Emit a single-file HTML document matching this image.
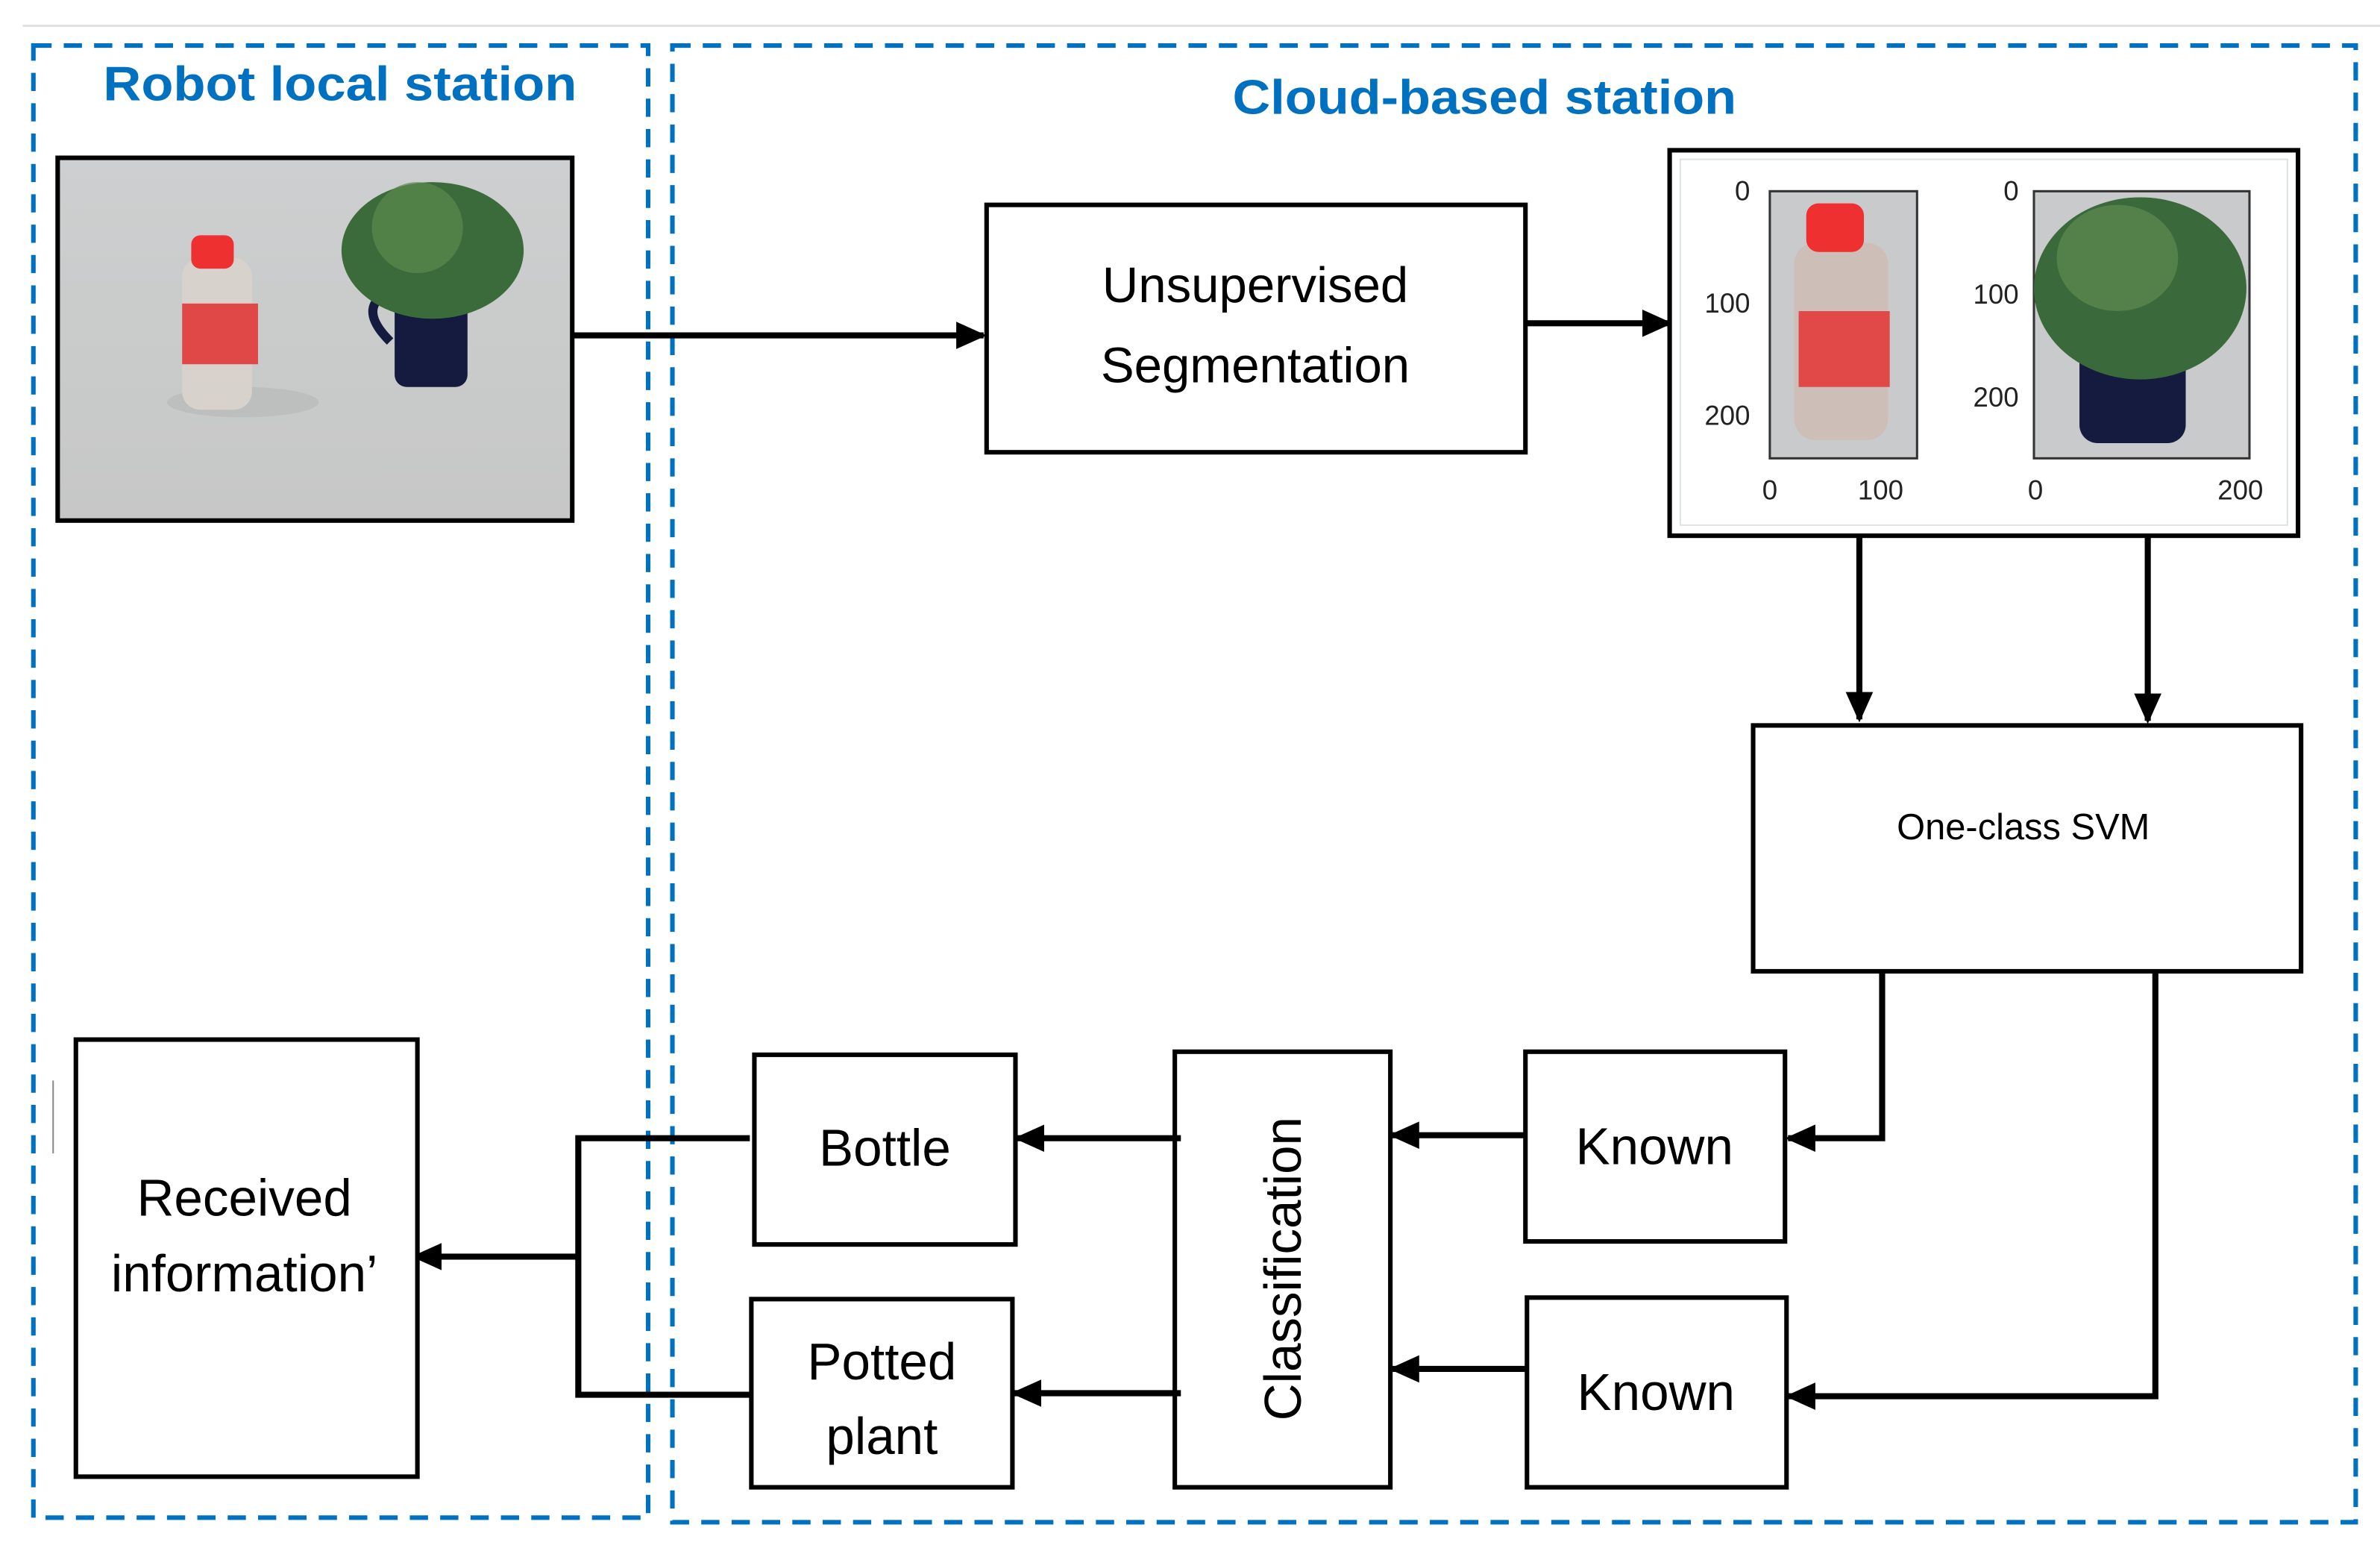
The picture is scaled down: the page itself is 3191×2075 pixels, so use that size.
<!DOCTYPE html>
<html><head><meta charset="utf-8"><style>html,body{margin:0;padding:0;background:#fff}svg{display:block}</style></head>
<body>
<svg width="3191" height="2075" viewBox="0 0 1568 1020" preserveAspectRatio="none" xmlns="http://www.w3.org/2000/svg" font-family="'Liberation Sans', sans-serif">
<defs>
<marker id="a" markerWidth="20" markerHeight="20" refX="18" refY="10" orient="auto" markerUnits="userSpaceOnUse" viewBox="0 0 20 20"><path d="M0,1 L20,10 L0,19 z" fill="#000"/></marker>
<linearGradient id="bg" x1="0" y1="0" x2="0" y2="1"><stop offset="0" stop-color="#cdcfd0"/><stop offset="1" stop-color="#c6c7c6"/></linearGradient>
</defs>
<line x1="15" y1="17" x2="1568" y2="17" stroke="#e2e2e2" stroke-width="1.5"/>
<line x1="35" y1="712" x2="35" y2="760" stroke="#888" stroke-width="1"/>
<rect x="22" y="30" width="405" height="970" fill="none" stroke="#0070c0" stroke-width="3" stroke-dasharray="12 8"/>
<rect x="443" y="30" width="1109" height="973" fill="none" stroke="#0070c0" stroke-width="3" stroke-dasharray="12 8"/>
<text x="224" y="66" font-size="32" font-weight="bold" fill="#0070c0" text-anchor="middle" textLength="312" lengthAdjust="spacingAndGlyphs">Robot local station</text>
<text x="978" y="75" font-size="32" font-weight="bold" fill="#0070c0" text-anchor="middle" textLength="332" lengthAdjust="spacingAndGlyphs">Cloud-based station</text>

<!-- photo -->
<rect x="38" y="104" width="339" height="239" fill="url(#bg)" stroke="#000" stroke-width="3"/>
<ellipse cx="160" cy="265" rx="50" ry="10" fill="#bdbebe"/>
<rect x="120" y="170" width="46" height="100" rx="12" fill="#d8d2cc"/>
<rect x="120" y="200" width="50" height="40" fill="#e04848"/>
<rect x="126" y="155" width="28" height="22" rx="6" fill="#ee3030"/>
<rect x="260" y="185" width="48" height="70" rx="8" fill="#141b3e"/>
<path d="M262,190 q-30,10 -5,35" stroke="#141b3e" stroke-width="6" fill="none"/>
<ellipse cx="285" cy="165" rx="60" ry="45" fill="#3b6b3a"/>
<ellipse cx="275" cy="150" rx="30" ry="30" fill="#5d8a4f" opacity="0.7"/>

<!-- arrows -->
<line x1="377" y1="221" x2="648" y2="221" stroke="#000" stroke-width="4" marker-end="url(#a)"/>
<rect x="650" y="135" width="355" height="163" fill="#fff" stroke="#000" stroke-width="3"/>
<text x="827" y="199" font-size="33" text-anchor="middle">Unsupervised</text>
<text x="827" y="252" font-size="33" text-anchor="middle">Segmentation</text>
<line x1="1005" y1="213" x2="1100" y2="213" stroke="#000" stroke-width="4" marker-end="url(#a)"/>

<!-- plots -->
<rect x="1100" y="99" width="414" height="254" fill="#fff" stroke="#000" stroke-width="3"/>
<rect x="1107" y="105" width="400" height="241" fill="none" stroke="#dde2e4" stroke-width="1"/>
<rect x="1166" y="126" width="97" height="176" fill="#c9cacb" stroke="#333" stroke-width="1.5"/>
<rect x="1182" y="160" width="62" height="130" rx="14" fill="#cdbfb8"/>
<rect x="1185" y="205" width="60" height="50" fill="#e14848"/>
<rect x="1190" y="134" width="38" height="32" rx="8" fill="#ee3030"/>
<rect x="1340" y="126" width="142" height="176" fill="#c9cacb" stroke="#333" stroke-width="1.5"/>
<rect x="1370" y="220" width="70" height="72" rx="12" fill="#141b3e"/>
<ellipse cx="1410" cy="190" rx="70" ry="60" fill="#3a6a3b"/>
<ellipse cx="1395" cy="170" rx="40" ry="35" fill="#5f8b50" opacity="0.7"/>
<g font-size="18" fill="#222" text-anchor="end">
<text x="1153" y="132">0</text><text x="1153" y="206">100</text><text x="1153" y="280">200</text>
<text x="1330" y="132">0</text><text x="1330" y="200">100</text><text x="1330" y="268">200</text>
</g>
<g font-size="18" fill="#222" text-anchor="middle">
<text x="1166" y="329">0</text><text x="1239" y="329">100</text><text x="1341" y="329">0</text><text x="1476" y="329">200</text>
</g>

<line x1="1225" y1="353" x2="1225" y2="474" stroke="#000" stroke-width="4" marker-end="url(#a)"/>
<line x1="1415" y1="353" x2="1415" y2="475" stroke="#000" stroke-width="4" marker-end="url(#a)"/>
<rect x="1155" y="478" width="361" height="162" fill="#fff" stroke="#000" stroke-width="3"/>
<text x="1333" y="553" font-size="24" text-anchor="middle">One-class SVM</text>

<polyline points="1240,640 1240,750 1178,750" fill="none" stroke="#000" stroke-width="4" marker-end="url(#a)"/>
<polyline points="1420,640 1420,920 1178,920" fill="none" stroke="#000" stroke-width="4" marker-end="url(#a)"/>
<rect x="1005" y="693" width="171" height="125" fill="#fff" stroke="#000" stroke-width="3"/>
<text x="1090" y="767" font-size="34" text-anchor="middle">Known</text>
<rect x="1006" y="855" width="171" height="125" fill="#fff" stroke="#000" stroke-width="3"/>
<text x="1091" y="929" font-size="34" text-anchor="middle">Known</text>

<line x1="1005" y1="748" x2="917" y2="748" stroke="#000" stroke-width="4" marker-end="url(#a)"/>
<line x1="1006" y1="902" x2="917" y2="902" stroke="#000" stroke-width="4" marker-end="url(#a)"/>
<rect x="774" y="693" width="142" height="287" fill="#fff" stroke="#000" stroke-width="3"/>
<text transform="translate(857,836) rotate(-90)" font-size="34" text-anchor="middle">Classification</text>

<line x1="778" y1="750" x2="670" y2="750" stroke="#000" stroke-width="4" marker-end="url(#a)"/>
<line x1="778" y1="918" x2="668" y2="918" stroke="#000" stroke-width="4" marker-end="url(#a)"/>
<rect x="497" y="695" width="172" height="125" fill="#fff" stroke="#000" stroke-width="3"/>
<text x="583" y="768" font-size="34" text-anchor="middle">Bottle</text>
<rect x="495" y="856" width="172" height="124" fill="#fff" stroke="#000" stroke-width="3"/>
<text x="581" y="909" font-size="34" text-anchor="middle">Potted</text>
<text x="581" y="958" font-size="34" text-anchor="middle">plant</text>

<polyline points="494,750 381,750 381,919 494,919" fill="none" stroke="#000" stroke-width="4"/>
<line x1="381" y1="828" x2="273" y2="828" stroke="#000" stroke-width="4" marker-end="url(#a)"/>
<rect x="50" y="685" width="225" height="288" fill="#fff" stroke="#000" stroke-width="3"/>
<text x="161" y="801" font-size="34" text-anchor="middle">Received</text>
<text x="161" y="851" font-size="34" text-anchor="middle">information’</text>
</svg>
</body></html>
